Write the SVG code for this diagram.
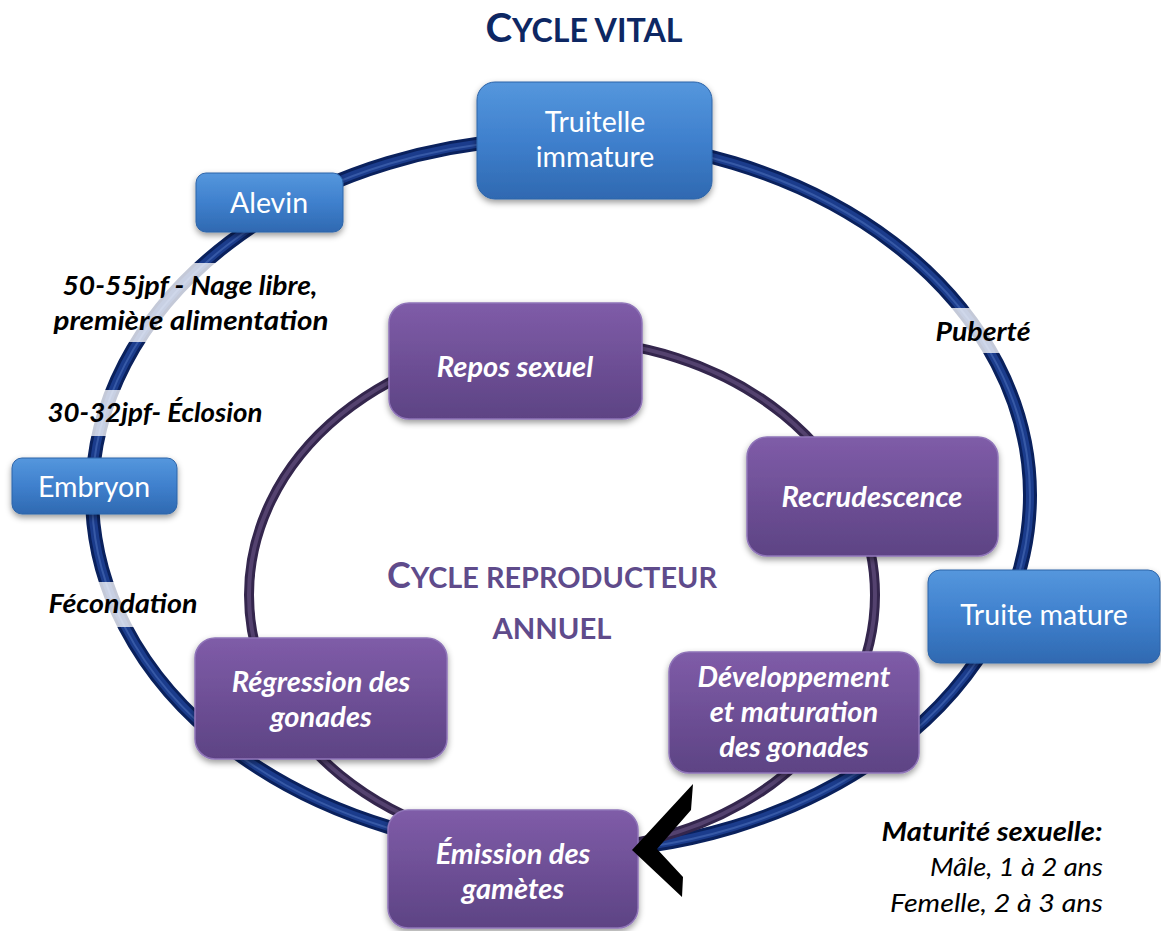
<svg xmlns="http://www.w3.org/2000/svg" width="1161" height="931" viewBox="0 0 1161 931">
<style>
.blue{fill:url(#gBlue);stroke:#2d64a8;stroke-width:1;filter:url(#sh)}
.purple{fill:url(#gPurple);stroke:#8f74b8;stroke-width:1.5;filter:url(#sh)}
.bt{font-family:Lato,"Open Sans",sans-serif;font-size:28.5px;fill:#ffffff;text-anchor:middle}
.pt{font-family:Lato,"Open Sans",sans-serif;font-size:29px;font-weight:bold;font-style:italic;fill:#ffffff;text-anchor:middle}
.lab{font-family:Lato,"Open Sans",sans-serif;font-size:26px;font-weight:bold;font-style:italic;fill:#000000;text-anchor:middle}
.labn{font-family:Lato,"Open Sans",sans-serif;font-size:26px;font-style:italic;fill:#000000;text-anchor:end}
.band{fill:#ffffff;opacity:0.76}
.ttl{font-family:Lato,"Open Sans",sans-serif;font-weight:bold;text-anchor:middle}
</style>
<defs>
<linearGradient id="gBlue" x1="0" y1="0" x2="0" y2="1">
<stop offset="0" stop-color="#5597dd"/>
<stop offset="0.5" stop-color="#3f80cd"/>
<stop offset="1" stop-color="#2f69b1"/>
</linearGradient>
<linearGradient id="gPurple" x1="0" y1="0" x2="0" y2="1">
<stop offset="0" stop-color="#7f5ca8"/>
<stop offset="1" stop-color="#5d4384"/>
</linearGradient>
<filter id="sh" x="-10%" y="-10%" width="120%" height="130%">
<feDropShadow dx="0" dy="3" stdDeviation="3" flood-color="#000000" flood-opacity="0.4"/>
</filter>
</defs>

<text class="ttl" x="584" y="42" fill="#0d2763" textLength="197" lengthAdjust="spacingAndGlyphs"><tspan font-size="40">C</tspan><tspan font-size="32">YCLE VITAL</tspan></text>

<g id="connectors">
<ellipse cx="561" cy="495" rx="469" ry="357" fill="none" stroke="#0a215d" stroke-width="14"/>
<ellipse cx="561" cy="495" rx="469" ry="357" fill="none" stroke="#1b3c8c" stroke-width="8"/>
<ellipse cx="561" cy="496" rx="469" ry="357" fill="none" stroke="#4a6db8" stroke-width="2" opacity="0.6"/>
<ellipse cx="562" cy="595" rx="313" ry="255" fill="none" stroke="#34264d" stroke-width="10"/>
<ellipse cx="562" cy="595" rx="313" ry="255" fill="none" stroke="#54426f" stroke-width="4"/>
</g>

<g id="bands">
<rect class="band" x="40" y="263" width="300" height="79"/>
<rect class="band" x="40" y="390" width="235" height="46"/>
<rect class="band" x="40" y="582" width="170" height="45"/>
<rect class="band" x="925" y="308" width="115" height="45"/>
</g>

<g id="labels">
<text class="lab" x="190" y="295" textLength="255" lengthAdjust="spacingAndGlyphs">50-55jpf - Nage libre,</text>
<text class="lab" x="191" y="330" textLength="275" lengthAdjust="spacingAndGlyphs">première alimentation</text>
<text class="lab" x="155" y="422" textLength="215" lengthAdjust="spacingAndGlyphs">30-32jpf- Éclosion</text>
<text class="lab" x="123" y="613" textLength="149" lengthAdjust="spacingAndGlyphs">Fécondation</text>
<text class="lab" x="983" y="341" textLength="95" lengthAdjust="spacingAndGlyphs">Puberté</text>
<text class="lab" x="992" y="841" textLength="221" lengthAdjust="spacingAndGlyphs">Maturité sexuelle:</text>
<text class="labn" x="1103" y="876" textLength="173" lengthAdjust="spacingAndGlyphs">Mâle, 1 à 2 ans</text>
<text class="labn" x="1103" y="912" textLength="213" lengthAdjust="spacingAndGlyphs">Femelle, 2 à 3 ans</text>
</g>

<text class="ttl" x="552" y="588" fill="#5f4b8b" textLength="330" lengthAdjust="spacingAndGlyphs"><tspan font-size="36">C</tspan><tspan font-size="29">YCLE REPRODUCTEUR</tspan></text>
<text class="ttl" x="552" y="639" fill="#5f4b8b" font-size="29" textLength="119" lengthAdjust="spacingAndGlyphs">ANNUEL</text>

<g id="truitelle">
<rect class="blue" x="477" y="82" width="235" height="117" rx="18"/>
<text class="bt" x="595" y="132">Truitelle</text>
<text class="bt" x="595" y="167">immature</text>
</g>
<g id="alevin">
<rect class="blue" x="196" y="173" width="147" height="59" rx="10"/>
<text class="bt" x="269" y="213">Alevin</text>
</g>
<g id="embryon">
<rect class="blue" x="12" y="458" width="165" height="56" rx="10"/>
<text class="bt" x="94" y="497">Embryon</text>
</g>
<g id="truite-mature">
<rect class="blue" x="928" y="570" width="232" height="93" rx="12"/>
<text class="bt" x="1044" y="625">Truite mature</text>
</g>

<g id="repos">
<rect class="purple" x="389" y="303" width="253" height="116" rx="20"/>
<text class="pt" x="515" y="377">Repos sexuel</text>
</g>
<g id="recrudescence">
<rect class="purple" x="747" y="437" width="251" height="119" rx="20"/>
<text class="pt" x="872" y="507">Recrudescence</text>
</g>
<g id="developpement">
<rect class="purple" x="669" y="652" width="250" height="121" rx="20"/>
<text class="pt" x="794" y="687">Développement</text>
<text class="pt" x="794" y="722">et maturation</text>
<text class="pt" x="794" y="757">des gonades</text>
</g>
<g id="regression">
<rect class="purple" x="195" y="638" width="252" height="121" rx="20"/>
<text class="pt" x="321" y="692">Régression des</text>
<text class="pt" x="321" y="727">gonades</text>
</g>
<g id="emission">
<rect class="purple" x="388" y="810" width="250" height="118" rx="20"/>
<text class="pt" x="513" y="864">Émission des</text>
<text class="pt" x="513" y="899">gamètes</text>
</g>

<g id="arrowhead">
<polygon points="632,850 693,784 691,810 657,849 683,877 682,897" fill="#000000"/>
</g>
</svg>
